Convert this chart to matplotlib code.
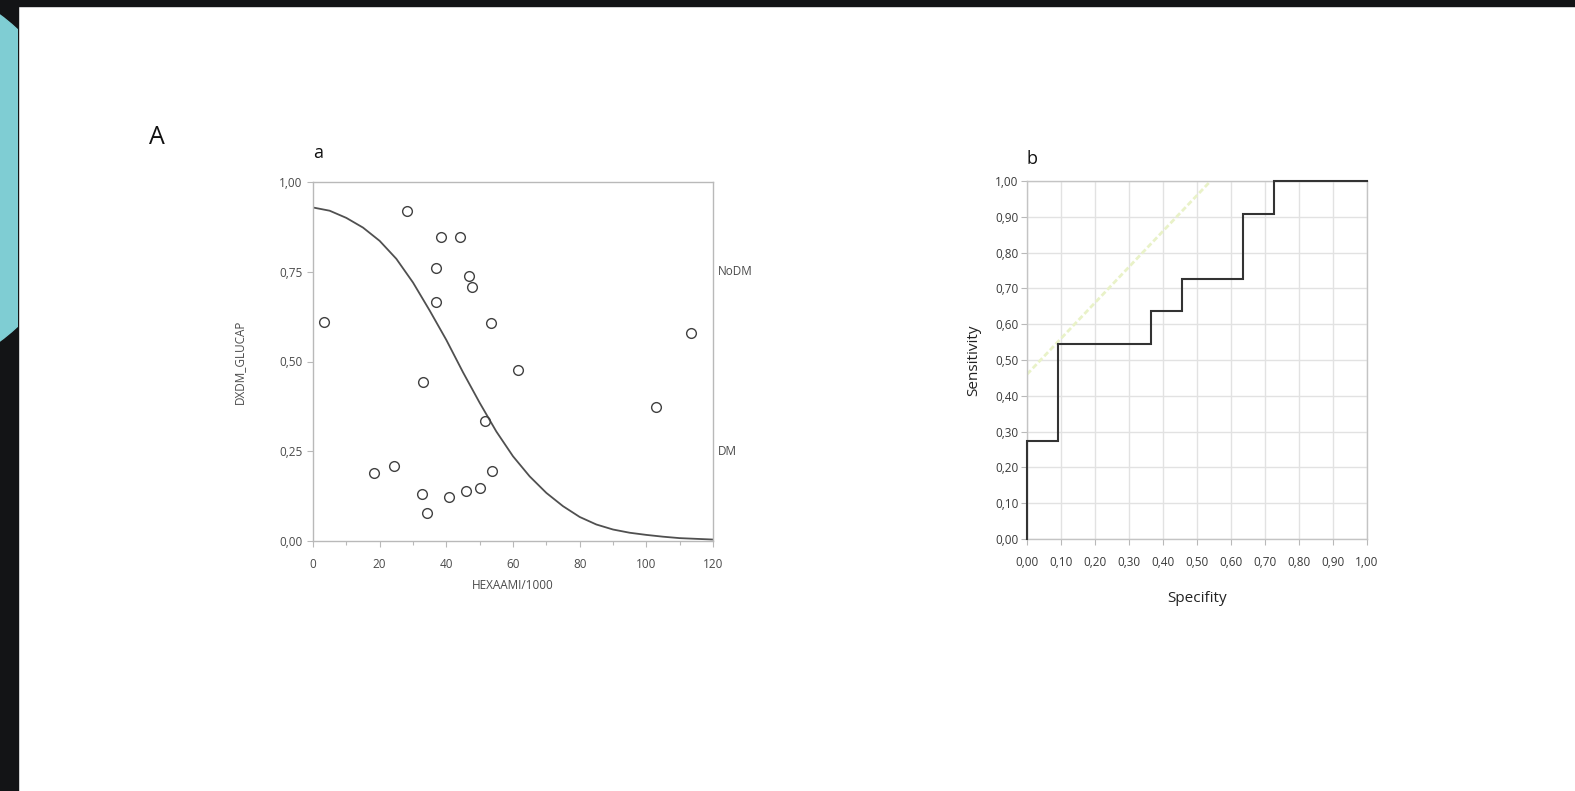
import numpy as np
import matplotlib
matplotlib.use("Agg")
import matplotlib.pyplot as plt
from matplotlib.patches import Rectangle, Circle

plt.rcParams['font.family'] = ['Open Sans', 'DejaVu Sans']

# --- panel a: scatter + fitted logistic curve
hexa = [3.3, 28.3, 38.4, 44.2, 36.9, 46.9, 47.7, 36.9, 53.3, 113.4, 61.6,
        33.0, 102.8, 51.6, 24.3, 18.2, 53.7, 32.6, 50.0, 45.8, 40.8, 34.3]
dxdm = [0.61, 0.92, 0.846, 0.846, 0.761, 0.737, 0.707, 0.667, 0.608, 0.578, 0.476,
        0.444, 0.372, 0.335, 0.21, 0.19, 0.194, 0.131, 0.148, 0.139, 0.122, 0.078]

curve_x = [0, 5, 10, 15, 20, 25, 30, 35, 40, 45, 50, 55, 60, 65, 70, 75, 80,
           85, 90, 95, 100, 105, 110, 115, 120]
curve_y = [0.929, 0.92, 0.90, 0.873, 0.836, 0.786, 0.72, 0.642, 0.56, 0.47, 0.385,
           0.305, 0.236, 0.18, 0.134, 0.097, 0.067, 0.046, 0.032, 0.023, 0.017,
           0.012, 0.008, 0.006, 0.004]

a_yticks = [0.0, 0.25, 0.5, 0.75, 1.0]
a_ylabels = ['0,00', '0,25', '0,50', '0,75', '1,00']
a_xticks = [0, 20, 40, 60, 80, 100, 120]

# --- panel b: ROC curve (step corners)
roc_x = [0.00, 0.00, 0.09, 0.09, 0.364, 0.364, 0.455, 0.455, 0.636, 0.636, 0.727, 0.727, 1.00]
roc_y = [0.00, 0.273, 0.273, 0.545, 0.545, 0.636, 0.636, 0.727, 0.727, 0.909, 0.909, 1.00, 1.00]
ref_x = [0.0, 0.54]
ref_y = [0.46, 1.0]

b_ticks = [0.0, 0.1, 0.2, 0.3, 0.4, 0.5, 0.6, 0.7, 0.8, 0.9, 1.0]
b_labels = ['0,00', '0,10', '0,20', '0,30', '0,40', '0,50', '0,60', '0,70', '0,80', '0,90', '1,00']

W, H = 1575, 791
fig = plt.figure(figsize=(W / 100, H / 100), dpi=100, facecolor='white')

def fx(px):
    return px / W

def fy(py):
    return 1 - py / H

# black frame and teal shape on the left
fig.patches.append(Rectangle((0, fy(6)), 1, 6 / H, transform=fig.transFigure,
                             color='#131416', zorder=0))
fig.patches.append(Rectangle((0, 0), fx(18), 1, transform=fig.transFigure,
                             color='#131416', zorder=0))
teal = Circle((-121, H - 178), 203, transform=None, color='#7fcdd3', zorder=1)
teal.set_clip_path(Rectangle((0, 0), 18, H - 6, transform=None))
fig.patches.append(teal)

grey = '#b9b9b9'
txt = '#4a4a4a'

# panel a
ax1 = fig.add_axes([fx(313), fy(541), fx(713) - fx(313), fy(182) - fy(541)])
ax1.plot(curve_x, curve_y, color='#505050', lw=1.3)
ax1.plot(hexa, dxdm, 'o', ms=7, mfc='none', mec='#404040', mew=1.0)
ax1.set_xlim(0, 120)
ax1.set_ylim(0, 1)
ax1.set_yticks(a_yticks)
ax1.set_yticklabels(a_ylabels)
ax1.set_xticks(a_xticks)
ax1.set_xticks(np.arange(10, 120, 20), minor=True)
for s in ax1.spines.values():
    s.set_color(grey)
    s.set_linewidth(1.0)
ax1.tick_params(axis='both', colors=grey, labelcolor=txt, labelsize=8.5, length=4, width=0.8)
ax1.tick_params(axis='x', pad=8)
ax1.tick_params(axis='x', which='minor', colors=grey, length=3, width=0.8)
ax1.set_ylabel('DXDM_GLUCAP', fontsize=8.5, color=txt, labelpad=24)
ax1.set_xlabel('HEXAAMI/1000', fontsize=8.5, color=txt, labelpad=6)
ax1.text(1.013, 0.75, 'NoDM', transform=ax1.transAxes, fontsize=8.5, color=txt, va='center')
ax1.text(1.013, 0.25, 'DM', transform=ax1.transAxes, fontsize=8.5, color=txt, va='center')
ax1.text(0.0, 1.055, 'a', transform=ax1.transAxes, fontsize=13, color='#111111', va='bottom')

fig.text(fx(149), fy(138), 'A', fontsize=18, color='#111111', va='center')

# panel b
ax2 = fig.add_axes([fx(1027), fy(539), fx(1367) - fx(1027), fy(181) - fy(539)])
ax2.set_xlim(0, 1)
ax2.set_ylim(0, 1)
ax2.set_xticks(b_ticks)
ax2.set_xticklabels(b_labels)
ax2.set_yticks(b_ticks)
ax2.set_yticklabels(b_labels)
ax2.grid(True, color='#e2e2e2', lw=1.0)
ax2.set_axisbelow(True)
ax2.plot(ref_x, ref_y, color='#e9f2c8', lw=2.0, ls=(0, (2, 1)))
ax2.plot(roc_x, roc_y, color='#333333', lw=1.5, solid_joinstyle='miter', clip_on=False, zorder=5)
for s in ax2.spines.values():
    s.set_color('#c4c4c4')
    s.set_linewidth(1.0)
ax2.tick_params(axis='both', colors=grey, labelcolor='#3a3a3a', labelsize=8.5, length=4, width=0.8, pad=2)
ax2.tick_params(axis='x', pad=8)
ax2.set_ylabel('Sensitivity', fontsize=11, color='#222222', labelpad=10)
ax2.set_xlabel('Specifity', fontsize=11, color='#222222', labelpad=16)
ax2.text(0.0, 1.035, 'b', transform=ax2.transAxes, fontsize=13, color='#111111', va='bottom')

fig.savefig('out.png', dpi=100, facecolor='white')
